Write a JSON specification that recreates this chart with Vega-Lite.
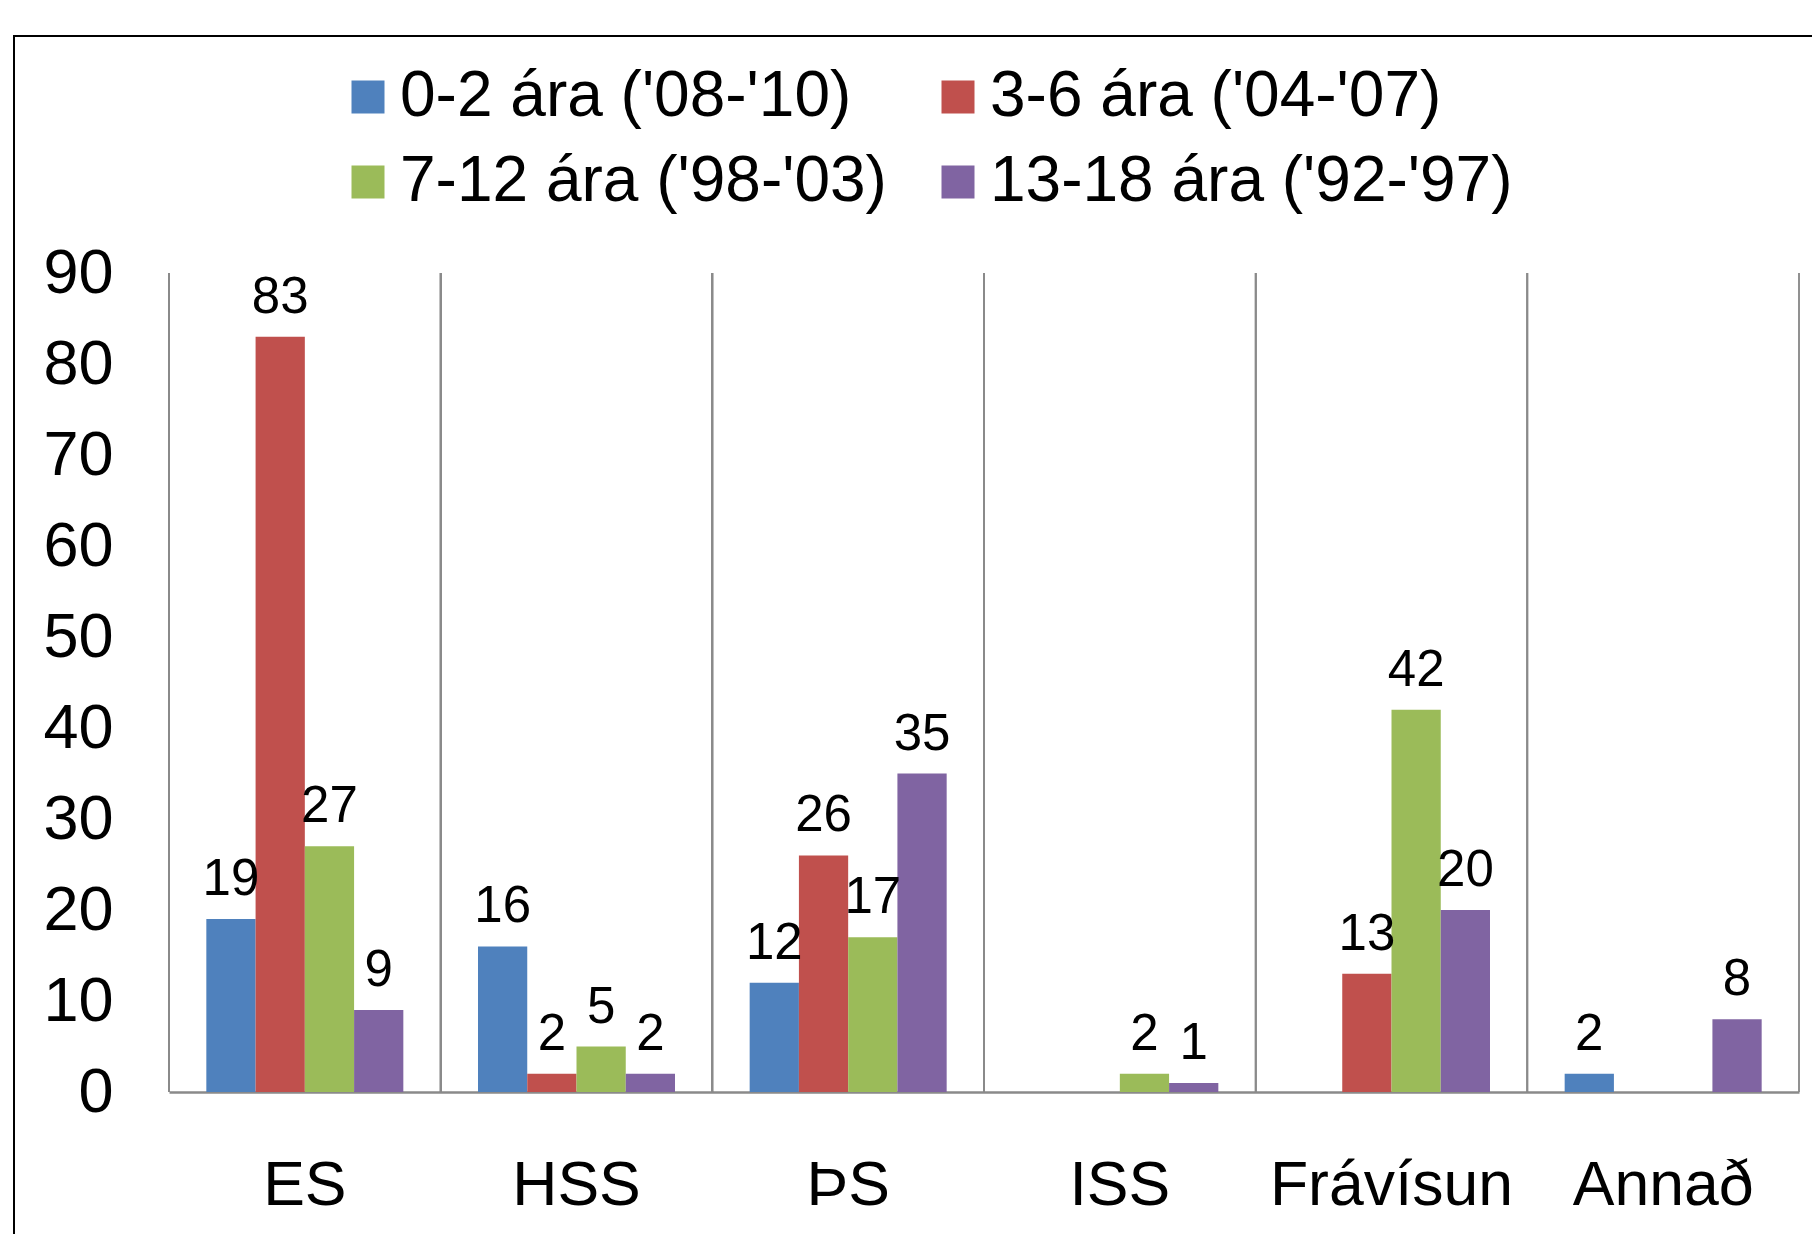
{
  "$schema": "https://vega.github.io/schema/vega-lite/v6.json",
  "width": 1798,
  "height": 1198,
  "autosize": {"type": "none"},
  "padding": {"left": 14, "top": 36, "right": 0, "bottom": 0},
  "background": "white",
  "config": {
    "font": "Liberation Sans",
    "view": {"stroke": "black", "strokeWidth": 2, "strokeDash": [1798, 2996, 1198]},
    "axisX": {
      "labelAngle": 0,
      "labelFontSize": 62.5,
      "labelColor": "black",
      "labelPadding": 63,
      "labelLimit": 0,
      "ticks": false,
      "tickSize": 0,
      "grid": false,
      "domainColor": "#8a8a8a",
      "domainWidth": 2.5,
      "offset": -142
    },
    "axisY": {
      "labelFontSize": 63,
      "labelColor": "black",
      "labelPadding": 56,
      "labelFlush": false,
      "domain": false,
      "ticks": false,
      "tickSize": 0,
      "grid": false,
      "tickCount": 10,
      "offset": -155
    }
  },
  "data": {
    "values": [
      {"flokkur": "ES", "aldur": "0-2 ára ('08-'10)", "fjoldi": 19},
      {"flokkur": "ES", "aldur": "3-6 ára ('04-'07)", "fjoldi": 83},
      {"flokkur": "ES", "aldur": "7-12 ára ('98-'03)", "fjoldi": 27},
      {"flokkur": "ES", "aldur": "13-18 ára ('92-'97)", "fjoldi": 9},
      {"flokkur": "HSS", "aldur": "0-2 ára ('08-'10)", "fjoldi": 16},
      {"flokkur": "HSS", "aldur": "3-6 ára ('04-'07)", "fjoldi": 2},
      {"flokkur": "HSS", "aldur": "7-12 ára ('98-'03)", "fjoldi": 5},
      {"flokkur": "HSS", "aldur": "13-18 ára ('92-'97)", "fjoldi": 2},
      {"flokkur": "ÞS", "aldur": "0-2 ára ('08-'10)", "fjoldi": 12},
      {"flokkur": "ÞS", "aldur": "3-6 ára ('04-'07)", "fjoldi": 26},
      {"flokkur": "ÞS", "aldur": "7-12 ára ('98-'03)", "fjoldi": 17},
      {"flokkur": "ÞS", "aldur": "13-18 ára ('92-'97)", "fjoldi": 35},
      {"flokkur": "ISS", "aldur": "7-12 ára ('98-'03)", "fjoldi": 2},
      {"flokkur": "ISS", "aldur": "13-18 ára ('92-'97)", "fjoldi": 1},
      {"flokkur": "Frávísun", "aldur": "3-6 ára ('04-'07)", "fjoldi": 13},
      {"flokkur": "Frávísun", "aldur": "7-12 ára ('98-'03)", "fjoldi": 42},
      {"flokkur": "Frávísun", "aldur": "13-18 ára ('92-'97)", "fjoldi": 20},
      {"flokkur": "Annað", "aldur": "0-2 ára ('08-'10)", "fjoldi": 2},
      {"flokkur": "Annað", "aldur": "13-18 ára ('92-'97)", "fjoldi": 8}
    ]
  },
  "layer": [
    {
      "mark": {"type": "rule", "color": "#8a8a8a", "strokeWidth": 1.5},
      "encoding": {
        "x": {"field": "flokkur", "type": "nominal", "bandPosition": 0, "sort": ["ES", "HSS", "ÞS", "ISS", "Frávísun", "Annað"], "scale": {"domain": ["ES", "HSS", "ÞS", "ISS", "Frávísun", "Annað"], "range": [155, 1785], "paddingInner": 0, "paddingOuter": 0}, "axis": {"title": null}},
        "y": {"datum": 0, "type": "quantitative", "scale": {"domain": [0, 90], "nice": false, "range": [1056, 237]}, "axis": {"title": null}},
        "y2": {"datum": 90}
      }
    },
    {
      "mark": {"type": "rule", "color": "#8a8a8a", "strokeWidth": 1.5},
      "encoding": {
        "x": {"field": "flokkur", "type": "nominal", "bandPosition": 1, "sort": ["ES", "HSS", "ÞS", "ISS", "Frávísun", "Annað"], "scale": {"domain": ["ES", "HSS", "ÞS", "ISS", "Frávísun", "Annað"], "range": [155, 1785], "paddingInner": 0, "paddingOuter": 0}, "axis": {"title": null}},
        "y": {"datum": 0, "type": "quantitative", "scale": {"domain": [0, 90], "nice": false, "range": [1056, 237]}, "axis": {"title": null}},
        "y2": {"datum": 90}
      }
    },
    {
      "mark": {"type": "bar"},
      "encoding": {
        "x": {"field": "flokkur", "type": "nominal", "sort": ["ES", "HSS", "ÞS", "ISS", "Frávísun", "Annað"], "scale": {"domain": ["ES", "HSS", "ÞS", "ISS", "Frávísun", "Annað"], "range": [155, 1785], "paddingInner": 0, "paddingOuter": 0}, "axis": {"title": null}},
        "xOffset": {"field": "aldur", "type": "nominal", "scale": {"domain": ["0-2 ára ('08-'10)", "3-6 ára ('04-'07)", "7-12 ára ('98-'03)", "13-18 ára ('92-'97)"], "paddingInner": 0, "paddingOuter": 0.758}},
        "y": {"field": "fjoldi", "type": "quantitative", "scale": {"domain": [0, 90], "nice": false, "range": [1056, 237]}, "axis": {"title": null}},
        "color": {
          "field": "aldur",
          "type": "nominal",
          "scale": {
            "domain": ["0-2 ára ('08-'10)", "3-6 ára ('04-'07)", "7-12 ára ('98-'03)", "13-18 ára ('92-'97)"],
            "range": ["#4F81BD", "#C0504D", "#9BBB59", "#8064A2"]
          },
          "legend": {
            "orient": "none",
            "legendX": 322,
            "legendY": 29,
            "direction": "horizontal",
            "columns": 2,
            "title": null,
            "labelFontSize": 64,
            "labelColor": "black",
            "labelLimit": 0,
            "symbolType": "square",
            "symbolSize": 1089,
            "symbolStrokeWidth": 0,
            "labelOffset": 0,
            "columnPadding": 39,
            "rowPadding": 21,
            "padding": 0
          }
        }
      }
    },
    {
      "mark": {"type": "text", "baseline": "alphabetic", "dy": -24, "fontSize": 51, "color": "black"},
      "encoding": {
        "x": {"field": "flokkur", "type": "nominal", "sort": ["ES", "HSS", "ÞS", "ISS", "Frávísun", "Annað"], "scale": {"domain": ["ES", "HSS", "ÞS", "ISS", "Frávísun", "Annað"], "range": [155, 1785], "paddingInner": 0, "paddingOuter": 0}, "axis": {"title": null}},
        "xOffset": {"field": "aldur", "type": "nominal", "scale": {"domain": ["0-2 ára ('08-'10)", "3-6 ára ('04-'07)", "7-12 ára ('98-'03)", "13-18 ára ('92-'97)"], "paddingInner": 0, "paddingOuter": 0.758}},
        "y": {"field": "fjoldi", "type": "quantitative", "scale": {"domain": [0, 90], "nice": false, "range": [1056, 237]}, "axis": {"title": null}},
        "text": {"field": "fjoldi", "type": "quantitative"}
      }
    }
  ]
}
